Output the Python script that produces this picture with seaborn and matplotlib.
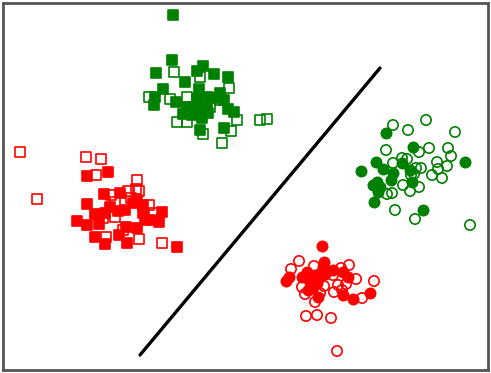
import matplotlib
matplotlib.use("Agg")
import matplotlib.pyplot as plt
import pandas as pd
import seaborn as sns

# positions (pixel-like units, y grows downward)

# green squares, filled / hollow
gsq_fill_x = [173, 172, 156, 185, 197, 203, 214, 228, 163, 155, 154, 176, 199, 197, 208,
              220, 224, 228, 234, 187, 183, 192, 202, 207, 208, 200, 224, 213, 198]
gsq_fill_y = [15, 60, 73, 82, 71, 66, 74, 77, 89, 97, 105, 102, 89, 99, 97,
              93, 100, 109, 112, 107, 114, 115, 118, 108, 113, 130, 128, 98, 110]
gsq_open_x = [174, 200, 229, 149, 170, 187, 196, 220, 177, 187, 237, 260, 267, 203, 231, 222, 210]
gsq_open_y = [72, 77, 88, 97, 99, 97, 107, 100, 122, 122, 120, 120, 119, 134, 131, 143, 107]

# red squares, filled / hollow
rsq_fill_x = [87, 108, 104, 120, 87, 95, 77, 87, 99, 105, 110, 118, 125, 133,
              137, 143, 143, 145, 152, 159, 162, 137, 126, 119, 95, 105, 127, 177]
rsq_fill_y = [176, 172, 194, 193, 204, 214, 221, 225, 224, 213, 207, 211, 210, 203,
              200, 205, 213, 220, 220, 222, 212, 228, 227, 235, 237, 244, 243, 247]
rsq_open_x = [20, 37, 86, 101, 96, 137, 136, 139, 128, 111, 115, 149, 154, 115, 103,
              123, 106, 139, 162, 131]
rsq_open_y = [152, 199, 157, 159, 175, 180, 189, 191, 191, 195, 202, 205, 213, 217, 218,
              230, 237, 239, 243, 198]

# green circles, filled / hollow
gci_fill_x = [386, 413, 376, 361, 383, 402, 410, 393, 391, 377, 373, 378, 380, 412, 374, 423, 465]
gci_fill_y = [133, 147, 162, 171, 169, 163, 170, 173, 180, 182, 185, 192, 187, 182, 202, 210, 162]
gci_open_x = [393, 408, 426, 455, 386, 419, 429, 448, 451, 437, 447, 438, 442, 432, 402,
              407, 393, 416, 421, 414, 411, 403, 419, 410, 392, 387, 395, 415, 470]
gci_open_y = [125, 130, 120, 132, 150, 152, 148, 148, 156, 162, 166, 169, 178, 175, 158,
              159, 163, 168, 168, 174, 175, 185, 187, 191, 193, 194, 210, 219, 225]

# red circles, filled / hollow
rci_fill_x = [322, 324, 323, 286, 289, 302, 307, 310, 315, 320, 325, 333, 343, 348,
              313, 308, 318, 343, 353, 370, 317]
rci_fill_y = [246, 262, 267, 281, 277, 277, 272, 282, 275, 277, 274, 270, 272, 277,
              287, 290, 297, 295, 299, 293, 283]
rci_open_x = [299, 291, 314, 349, 341, 333, 356, 374, 302, 324, 338, 346, 305, 320,
              334, 342, 315, 362, 306, 317, 331, 337]
rci_open_y = [261, 269, 266, 265, 268, 275, 279, 281, 287, 286, 285, 284, 294, 293,
              292, 290, 302, 298, 316, 315, 318, 351]

# separating line end points
line_x = [140, 380]
line_y = [355, 68]

groups = [
    (gsq_fill_x, gsq_fill_y, "green", "s", True),
    (gsq_open_x, gsq_open_y, "green", "s", False),
    (rsq_fill_x, rsq_fill_y, "red", "s", True),
    (rsq_open_x, rsq_open_y, "red", "s", False),
    (gci_fill_x, gci_fill_y, "green", "o", True),
    (gci_open_x, gci_open_y, "green", "o", False),
    (rci_fill_x, rci_fill_y, "red", "o", True),
    (rci_open_x, rci_open_y, "red", "o", False),
]

sns.set_style("white")
fig = plt.figure(figsize=(4.91, 3.73), dpi=100)
ax = fig.add_axes([3 / 491, 3 / 373, 485 / 491, 367 / 373])

for xs, ys, color, marker, filled in groups:
    df = pd.DataFrame({"x": xs, "y": ys})
    sns.scatterplot(
        data=df, x="x", y="y", ax=ax,
        marker=marker, s=55,
        color=color if filled else "none",
        edgecolor=color, linewidth=1.2,
    )

sns.lineplot(x=line_x, y=line_y, ax=ax, color="black", linewidth=2.4)

ax.set_xlim(3, 488)
ax.set_ylim(370, 3)
ax.set_xticks([])
ax.set_yticks([])
ax.set_xlabel("")
ax.set_ylabel("")
for sp in ax.spines.values():
    sp.set_color("#555555")
    sp.set_linewidth(2.0)

fig.savefig("out.png", dpi=100)
